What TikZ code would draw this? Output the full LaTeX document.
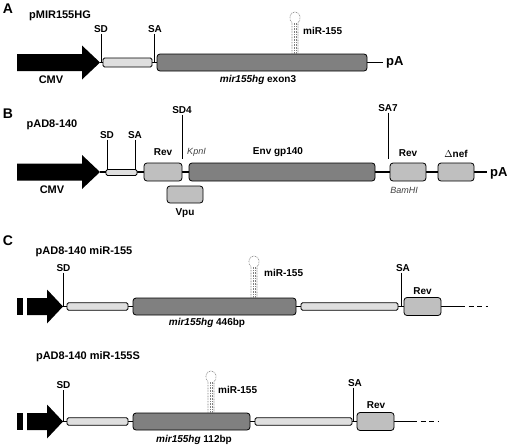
\documentclass[tikz,border=0pt]{standalone}
\usepackage{fontspec}
\setmainfont{Liberation Sans}
\begin{document}
\begin{tikzpicture}[x=1pt,y=-1pt,
  lab/.style={font=\fontsize{10}{12}\selectfont\bfseries, inner sep=1pt},
  ttl/.style={font=\fontsize{11}{13}\selectfont\bfseries, inner sep=0pt},
  pnl/.style={font=\fontsize{14}{16}\selectfont\bfseries, inner sep=0pt},
  site/.style={font=\fontsize{9}{11}\selectfont\itshape, text=black!75, inner sep=0pt},
  pa/.style={font=\fontsize{13}{15}\selectfont\bfseries, inner sep=0pt, anchor=west},
  bb/.style={line width=1.5pt},
  tick/.style={line width=0.8pt},
  box/.style={draw, line width=0.8pt, rounded corners=3pt, inner sep=0pt, outer sep=0pt},
  lt/.style={box, fill=gray!25, rounded corners=1.5pt},
  md/.style={box, fill=gray!50},
  dk/.style={box, fill=gray},
  hp/.style={draw=gray, line width=0.6pt, dash pattern=on 0.8pt off 0.8pt},
  pics/hairpin/.style={code={
    \draw[hp] (-3,0) -- (-3,-31) .. controls (-6.5,-34) and (-6,-42) .. (0,-42)
              .. controls (6,-42) and (6.5,-34) .. (3,-31) -- (3,0);
    \draw[hp] (-1.2,0) -- (-1.2,-31) (1.2,0) -- (1.2,-31);
  }},
]
\useasboundingbox (0,0) rectangle (510,447);

% ================= A =================
\node[pnl] (pA1) at (8,9) {A};
\node[ttl] (tA) at (60,16) {pMIR155HG};
\fill (17,54) -- (82,54) -- (82,45.5) -- (100,62.5) -- (82,79.5) -- (82,71) -- (17,71) -- cycle;
\coordinate (tipA) at (100,62.5);
\coordinate (endA) at (383,62.5);
\node[lab, font=\fontsize{11}{13}\selectfont\bfseries] (cmvA) at (51,79.5) {CMV};
\node[lab] (sdA) at (101,29) {SD};
\node[lab] (saA) at (155,29) {SA};
\draw[bb] (tipA) -- (endA);
\draw[tick] (sdA.south) -- (sdA.south |- tipA);
\draw[tick] ([xshift=-0.5pt]saA.south) -- ([xshift=-0.5pt]saA.south |- tipA);
\node[lt, minimum width=49pt, minimum height=9pt] (lA) at (127.5,62.5) {};
\node[dk, minimum width=210pt, minimum height=17pt] (dA) at (262,62.5) {};
\pic at (295,54) {hairpin};
\node[lab, anchor=west] (mA) at (302,31) {miR-155};
\node[pa] (paA) at (386,62.5) {pA};
\node[lab] (exA) at (258,80) {\itshape mir155hg\upshape\ exon3};

% ================= B =================
\node[pnl] (pB1) at (8,113.5) {B};
\node[ttl] (tB) at (52,125) {pAD8-140};
\fill (17,163.5) -- (82,163.5) -- (82,155) -- (100,172) -- (82,189) -- (82,180.5) -- (17,180.5) -- cycle;
\coordinate (tipB) at (100,172);
\coordinate (endB) at (487,172);
\node[lab, font=\fontsize{11}{13}\selectfont\bfseries] (cmvB) at (52,189.5) {CMV};
\draw[bb] (tipB) -- (endB);
\node[lab] (sdB) at (107,135) {SD};
\node[lab] (saB) at (135,135) {SA};
\node[lab] (sd4) at (182,110) {SD4};
\node[lab] (sa7) at (388,108) {SA7};
\coordinate (sd4end) at (182,159);
\coordinate (sa7end) at (388,159);
\draw[tick] (sdB.south) -- (sdB.south |- tipB);
\draw[tick] (saB.south) -- (saB.south |- tipB);
\draw[tick] (sd4.south) -- (sd4end);
\draw[tick] (sa7.south) -- (sa7end);
\node[lt, minimum width=31pt, minimum height=6pt] (lB) at (121.5,172.5) {};
\node[md, minimum width=38pt, minimum height=18pt] (revB) at (163,172) {};
\node[lab] (revBl) at (163,152.5) {Rev};
\node[site] (kpn) at (196.5,152) {KpnI};
\node[dk, minimum width=186pt, minimum height=18pt] (envB) at (282,172) {};
\node[lab] (envl) at (278,152.5) {Env gp140};
\node[md, minimum width=36pt, minimum height=17pt] (vpu) at (185,194.5) {};
\node[lab] (vpul) at (185,213) {Vpu};
\node[md, minimum width=36pt, minimum height=18pt] (rev2) at (408,172) {};
\node[lab] (rev2l) at (408,153.5) {Rev};
\node[site] (bam) at (404,190.5) {BamHI};
\node[md, minimum width=36pt, minimum height=18pt] (nef) at (456,172) {};
\node[lab] (nefl) at (456,153.5) {$\Delta$nef};
\node[pa] (paB) at (490,173) {pA};

% ================= C =================
\node[pnl] (pC1) at (8,241) {C};
\node[ttl] (tC) at (84,252) {pAD8-140 miR-155};
\fill (17,298) rectangle (23,315);
\fill (27,298) -- (47,298) -- (47,289.5) -- (63,306.5) -- (47,323.5) -- (47,315) -- (27,315) -- cycle;
\coordinate (tipC) at (63,306.5);
\coordinate (solC) at (460,306.5);
\coordinate (endC) at (488,306.5);
\draw[bb] (tipC) -- (solC);
\draw[bb, dash pattern=on 5pt off 3.5pt] (solC) -- (endC);
\node[lab] (sdC) at (63.5,268) {SD};
\node[lab] (saC) at (403,268) {SA};
\draw[tick] (sdC.south) -- (sdC.south |- tipC);
\draw[tick] ([xshift=-2pt]saC.south) -- ([xshift=-2pt]saC.south |- tipC);
\node[lt, minimum width=61pt, minimum height=7.5pt] (lC1) at (97.5,306.5) {};
\node[dk, minimum width=163pt, minimum height=17pt] (dC) at (214.5,306.5) {};
\pic at (254,298) {hairpin};
\node[lab, anchor=west] (mC) at (263,273) {miR-155};
\node[lt, minimum width=97pt, minimum height=7.5pt] (lC2) at (349.5,306.5) {};
\node[md, minimum width=37pt, minimum height=18pt] (revC) at (422.5,306.5) {};
\node[lab] (revCl) at (422.5,291) {Rev};
\node[lab] (exC) at (207,323) {\itshape mir155hg\upshape\ 446bp};

% ================= D =================
\node[ttl] (tD) at (88,357) {pAD8-140 miR-155S};
\fill (17,413) rectangle (23,430);
\fill (27,413) -- (47,413) -- (47,404.5) -- (63,421.5) -- (47,438.5) -- (47,430) -- (27,430) -- cycle;
\coordinate (tipD) at (63,421.5);
\coordinate (solD) at (412,421.5);
\coordinate (endD) at (438,421.5);
\draw[bb] (tipD) -- (solD);
\draw[bb, dash pattern=on 5pt off 3.5pt] (solD) -- (endD);
\node[lab] (sdD) at (63.5,385.5) {SD};
\node[lab] (saD) at (355,383) {SA};
\draw[tick] (sdD.south) -- (sdD.south |- tipD);
\draw[tick] ([xshift=-2pt]saD.south) -- ([xshift=-2pt]saD.south |- tipD);
\node[lt, minimum width=61pt, minimum height=7.5pt] (lD1) at (97.5,421.5) {};
\node[dk, minimum width=117pt, minimum height=17pt] (dD) at (191.5,421.5) {};
\pic at (211,413) {hairpin};
\node[lab, anchor=west] (mD) at (217,390) {miR-155};
\node[lt, minimum width=97pt, minimum height=7.5pt] (lD2) at (303.5,421.5) {};
\node[md, minimum width=37pt, minimum height=18pt] (revD) at (375.5,421.5) {};
\node[lab] (revDl) at (376,405.5) {Rev};
\node[lab] (exD) at (194,440) {\itshape mir155hg\upshape\ 112bp};
\end{tikzpicture}
\end{document}
